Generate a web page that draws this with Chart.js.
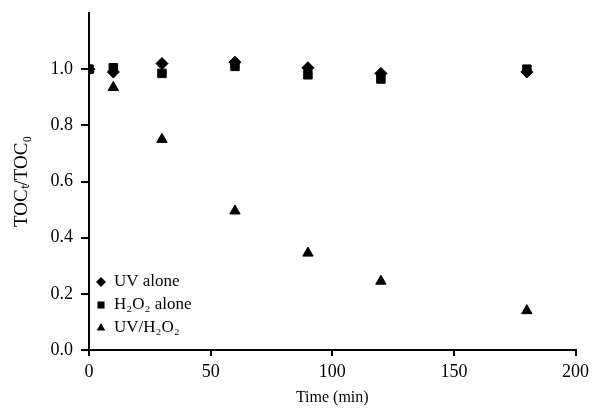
<!DOCTYPE html>
<html>
<head>
<meta charset="utf-8">
<script src="https://cdn.jsdelivr.net/npm/chart.js@4.4.0/dist/chart.umd.min.js"></script>
<style>
  html, body { margin: 0; padding: 0; background: #fff; }
  #wrap { width: 594px; height: 411px; }
</style>
</head>
<body>
<div id="wrap"><canvas id="toc"></canvas></div>
<script>
const times = [0, 10, 30, 60, 90, 120, 180];
const uvAlone = [1.0, 0.99, 1.02, 1.025, 1.005, 0.985, 0.99];
const h2o2Alone = [1.0, 1.005, 0.985, 1.01, 0.98, 0.965, 1.0];
const uvH2o2 = [1.0, 0.935, 0.75, 0.495, 0.345, 0.245, 0.14];
const seriesLabels = ["UV alone", "H\u2082O\u2082 alone", "UV/H\u2082O\u2082"];

const serif = "'Liberation Serif', 'Times New Roman', serif";

function pts(vals) {
  return times.map((t, i) => ({ x: t, y: vals[i] }));
}

// legend drawn inside the plot, lower left
const insideLegend = {
  id: 'insideLegend',
  afterDraw(chart) {
    const ctx = chart.ctx;
    const area = chart.chartArea;
    ctx.save();
    ctx.font = "17px " + serif;
    ctx.textBaseline = 'middle';
    chart.data.datasets.forEach((ds, i) => {
      const y = 282 + i * 23;
      const x = area.left + 12;
      ctx.fillStyle = '#000';
      Chart.helpers.drawPoint(ctx, { pointStyle: ds.pointStyle, radius: ds.pointRadius - 1, borderWidth: 0 }, x, y);
      ctx.fillStyle = '#000';
      ctx.fillText(ds.label, x + 13, y);
    });
    ctx.restore();
  }
};

new Chart(document.getElementById('toc').getContext('2d'), {
  type: 'scatter',
  data: {
    datasets: [
      { label: seriesLabels[0], data: pts(uvAlone), pointStyle: 'rectRot', pointRadius: 6,
        backgroundColor: '#000', borderColor: '#000' },
      { label: seriesLabels[1], data: pts(h2o2Alone), pointStyle: 'rect', pointRadius: 6,
        backgroundColor: '#000', borderColor: '#000' },
      { label: seriesLabels[2], data: pts(uvH2o2), pointStyle: 'triangle', pointRadius: 6,
        backgroundColor: '#000', borderColor: '#000' }
    ]
  },
  options: {
    responsive: true,
    maintainAspectRatio: false,
    animation: false,
    layout: { padding: { top: 13, right: 18, left: 0, bottom: 0 } },
    plugins: {
      legend: { display: false },
      tooltip: { enabled: false }
    },
    scales: {
      x: {
        type: 'linear',
        min: 0, max: 200,
        border: { color: '#000', width: 2 },
        grid: { drawOnChartArea: false, drawTicks: true, tickLength: 6, color: '#000', lineWidth: 2 },
        ticks: { stepSize: 50, color: '#000', font: { family: serif, size: 18 }, padding: 5 },
        title: { display: true, text: 'Time (min)', color: '#000', font: { family: serif, size: 16 }, padding: { top: 2 } },
        afterFit(s) { s.height = 61; }
      },
      y: {
        min: 0, max: 1.2,
        border: { color: '#000', width: 2 },
        grid: {
          drawOnChartArea: false, drawTicks: true, tickLength: 8, lineWidth: 2,
          color: c => (c.tick && c.tick.value > 1.01) ? 'rgba(0,0,0,0)' : '#000'
        },
        ticks: {
          stepSize: 0.2, color: '#000', font: { family: serif, size: 18 }, padding: 8,
          callback: v => v > 1.01 ? '' : v.toFixed(1)
        },
        title: { display: true, text: 'TOC\u209C/TOC\u2080', color: '#000', font: { family: serif, size: 19 }, padding: { top: 11, bottom: 0 } },
        afterFit(s) { s.width = 89; s.paddingTop = 0; s.paddingBottom = 0; }
      }
    }
  },
  plugins: [insideLegend]
});
</script>
</body>
</html>
